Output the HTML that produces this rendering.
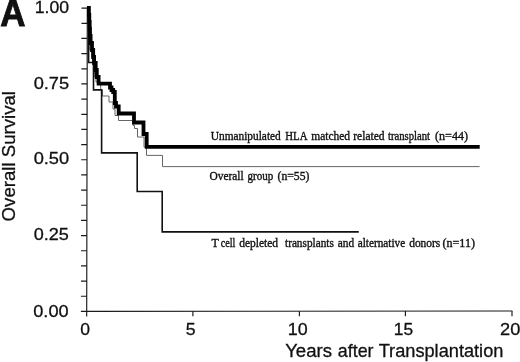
<!DOCTYPE html>
<html><head><meta charset="utf-8">
<style>
html,body{margin:0;padding:0;background:#fff;}
body{width:520px;height:362px;overflow:hidden;position:relative;}
svg{position:absolute;left:0;top:0;display:block;filter:grayscale(1);}
.s{font-family:"Liberation Sans",sans-serif;fill:#111;stroke:#111;stroke-width:0.3;}
.t{font-family:"Liberation Serif",serif;fill:#111;stroke:#111;stroke-width:0.35;}
</style></head><body>
<svg width="520" height="362" viewBox="0 0 520 362">
<rect width="520" height="362" fill="#fff"/>
<!-- axes -->
<g stroke="#1a1a1a" stroke-width="1.15" fill="none">
<path d="M87.3 7.5 L86.7 311.4 L512.4 311"/>
<path d="M81.5 8.1H87.3 M81.5 23.3H87.3 M81.4 38.4H87.2 M81.4 53.6H87.2 M81.4 68.8H87.2 M81.3 83.9H87.1 M81.3 99.1H87.1 M81.3 114.3H87.1 M81.3 129.4H87.1 M81.2 144.6H87.0 M81.2 159.7H87.0 M81.2 174.9H87.0 M81.1 190.1H86.9 M81.1 205.2H86.9 M81.1 220.4H86.9 M81.0 235.6H86.8 M81.0 250.7H86.8 M81.0 265.9H86.8 M81.0 281.1H86.8 M80.9 296.2H86.7 M80.9 311.4H86.7"/>
<path d="M86.7 311.4V316.4 M192.9 311.3V316.3 M299.4 311.2V316.3 M405.4 311.1V316.2 M512 311V316.2"/>
</g>
<!-- thin overall -->
<path fill="none" stroke="#666" stroke-width="1" d="M89.8 30 V50 H91.5 V57 H92.4 V63 H93.4 V70 H94.4 V77 H96 V82 H100.7 V90 H102.4 V96 H109 V102 H113 V109 H115 V115.5 H118.5 V120.5 H133 V125.5 H134.5 V128.5 H137.5 V137 H144 V147 H146.5 V155.4 H162.5 V166.6 H479.6"/>
<!-- medium T cell -->
<path fill="none" stroke="#111" stroke-width="1.6" d="M88.6 8 V62.5 H93.5 V89.9 H101.6 V152.9 H137.2 V191.5 H162.2 V231.9 H358.8"/>
<!-- thick -->
<path fill="none" stroke="#000" stroke-width="3.8" stroke-linejoin="miter" d="M88.9 6 V15 H89.3 V22 H89.7 V29 H90 V36 H90.6 V43 H92 V50 H93.2 V57 H94.1 V63 H95.7 V70 H96.8 V77 H98.6 V83.7 H110 V87.5 H111.5 V90 H113.2 V92 H114.8 V103 H116 V106.5 H118.7 V113.5 H134 V122.5 H143.5 V134 H146.7 V146.8 H479.7"/>
<!-- text -->
<text class="s" font-size="17.3" transform="translate(34.76,13.1) scale(1.0209,1)">1.00</text>
<text class="s" font-size="17.3" transform="translate(33.65,88.7) scale(1.0545,1)">0.75</text>
<text class="s" font-size="17.3" transform="translate(33.65,164.1) scale(1.0545,1)">0.50</text>
<text class="s" font-size="17.3" transform="translate(33.66,240.0) scale(1.0453,1)">0.25</text>
<text class="s" font-size="17.3" transform="translate(33.25,316.5) scale(1.0515,1)">0.00</text>
<text class="s" font-size="17.3" transform="translate(80.17,335.2) scale(1.0145,1)">0</text>
<text class="s" font-size="17.3" transform="translate(185.79,335.2) scale(1.0236,1)">5</text>
<text class="s" font-size="17.3" transform="translate(287.75,335.2) scale(1.0341,1)">10</text>
<text class="s" font-size="17.3" transform="translate(393.78,335.2) scale(1.0054,1)">15</text>
<text class="s" font-size="17.3" transform="translate(500.09,335.2) scale(1.0534,1)">20</text>
<text class="s" font-size="18.1" transform="translate(285.13,357.4) scale(1.0287,1)">Years</text>
<text class="s" font-size="18.1" transform="translate(337.79,357.4) scale(0.9870,1)">after</text>
<text class="s" font-size="18.1" transform="translate(378.64,357.4) scale(1.0064,1)">Transplantation</text>
<text class="t" font-size="11.6" transform="translate(210.77,140.0) scale(0.9808,1)">Unmanipulated</text>
<text class="t" font-size="11.6" transform="translate(285.28,140.0) scale(0.9329,1)">HLA</text>
<text class="t" font-size="11.6" transform="translate(311.27,140.0) scale(0.9886,1)">matched</text>
<text class="t" font-size="11.6" transform="translate(353.27,140.0) scale(0.9934,1)">related</text>
<text class="t" font-size="11.6" transform="translate(388.00,140.0) scale(0.9177,1)">transplant</text>
<text class="t" font-size="11.6" transform="translate(435.02,140.0) scale(1.0422,1)">(n=44)</text>
<text class="t" font-size="11.6" transform="translate(209.54,179.6) scale(0.9821,1)">Overall</text>
<text class="t" font-size="11.6" transform="translate(247.56,179.6) scale(0.9523,1)">group</text>
<text class="t" font-size="11.6" transform="translate(277.53,179.6) scale(1.0096,1)">(n=55)</text>
<text class="t" font-size="11.6" transform="translate(211.38,246.5) scale(1.0228,1)">T</text>
<text class="t" font-size="11.6" transform="translate(220.69,246.5) scale(0.8772,1)">cell</text>
<text class="t" font-size="11.6" transform="translate(239.15,246.5) scale(0.9916,1)">depleted</text>
<text class="t" font-size="11.6" transform="translate(285.00,246.5) scale(0.9716,1)">transplants</text>
<text class="t" font-size="11.6" transform="translate(337.66,246.5) scale(0.9825,1)">and</text>
<text class="t" font-size="11.6" transform="translate(357.66,246.5) scale(0.9708,1)">alternative</text>
<text class="t" font-size="11.6" transform="translate(409.16,246.5) scale(0.9873,1)">donors</text>
<text class="t" font-size="11.6" transform="translate(442.52,246.5) scale(1.0405,1)">(n=11)</text>
<text class="s" font-size="18.5" transform="translate(14.8,221.4) rotate(-90) scale(1.007,1)">Overall Survival</text>
<text class="s" style="font-weight:bold;font-size:36.4px;stroke:#111;stroke-width:0.9;stroke-linejoin:miter" transform="translate(0.3,26.1) scale(0.96,1)">A</text>
</svg>
</body></html>
